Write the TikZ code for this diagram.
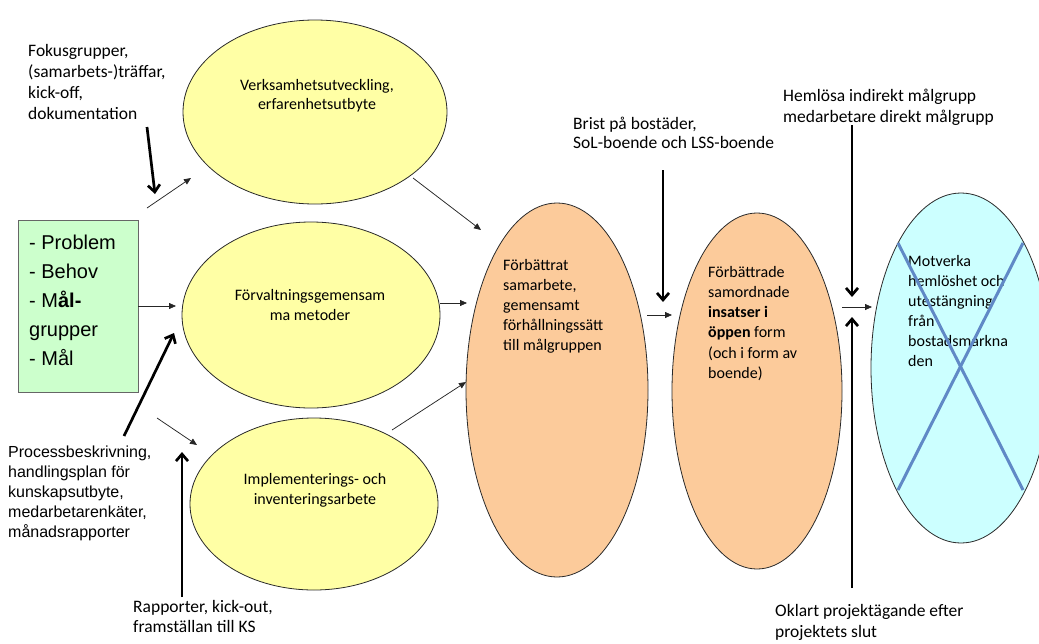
\documentclass[tikz,border=0pt]{standalone}
\usepackage{fontspec}
\setmainfont{Carlito}
\newfontfamily\arialf{Liberation Sans}
\usetikzlibrary{arrows.meta,shapes.geometric}
\definecolor{ellyellow}{HTML}{FFFFA5}
\definecolor{ellorange}{HTML}{FCCB9B}
\definecolor{ellblue}{HTML}{CCFFFF}
\definecolor{boxgreen}{HTML}{CCFFCC}
\definecolor{xblue}{HTML}{6089C6}
\definecolor{edgecol}{HTML}{2A2A2A}
\tikzset{
  bubble/.style={ellipse, draw=edgecol, line width=0.8pt, inner sep=0pt},
  thinarrow/.style={-{Triangle[length=7pt,width=6pt]}, line width=0.75pt, draw=black!85},
  thickarrow/.style={-{Straight Barb[length=7pt,width=12pt]}, line width=2.7pt},
  txtblk/.style={inner sep=0pt, anchor=north west, align=left},
  ctxt/.style={inner sep=0pt, anchor=north, align=center},
  calA/.style={font=\fontsize{17.5}{21}\selectfont},
  calB/.style={font=\fontsize{16}{20}\selectfont},
  arB/.style={font=\arialf\fontsize{16}{20}\selectfont},
  arC/.style={font=\arialf\fontsize{20}{29}\selectfont},
}
\begin{document}
\begin{tikzpicture}[x=1pt,y=-1pt]
\useasboundingbox (0,0) rectangle (1039,643);
\begin{scope}
\clip (0,0) rectangle (1039,643);
% ellipses
\node[bubble, fill=ellyellow, minimum width=264pt, minimum height=184pt] (e1) at (315,112) {};
\node[bubble, fill=ellyellow, minimum width=258pt, minimum height=186pt] (e2) at (311,315) {};
\node[bubble, fill=ellyellow, minimum width=248pt, minimum height=172pt] (e3) at (314,504) {};
\node[bubble, fill=ellorange, minimum width=182pt, minimum height=374pt] (o1) at (557,390) {};
\node[bubble, fill=ellorange, minimum width=170pt, minimum height=356pt] (o2) at (757,391) {};
\node[bubble, fill=ellblue, minimum width=180pt, minimum height=350pt] (goal) at (961,368) {};
% green box
\node[draw=black!60, line width=0.8pt, fill=boxgreen, minimum width=120pt, minimum height=172pt, inner sep=0pt] (box) at (78,306) {};

% texts
\node[txtblk, calA] (tfokus) at (28,43) {\rule{0pt}{13pt}Fokusgrupper,\\(samarbets-)träffar,\\kick-off,\\dokumentation};
\node[ctxt, calB, font=\fontsize{16}{19}\selectfont] (te1) at (317,78) {\rule{0pt}{12pt}Verksamhetsutveckling,\\erfarenhetsutbyte};
\node[txtblk, arC] (tbox) at (29,234) {\rule{0pt}{15pt}- Problem\\- Behov\\- M\textbf{ål-}\\grupper\\- Mål};
\node[ctxt, calB] (te2) at (310,288) {\rule{0pt}{12pt}Förvaltningsgemensam\\ma metoder};
\node[txtblk, arB] (tproc) at (8,445) {\rule{0pt}{12pt}Processbeskrivning,\\handlingsplan för\\kunskapsutbyte,\\medarbetarenkäter,\\månadsrapporter};
\node[ctxt, calB] (te3) at (315,472) {\rule{0pt}{12pt}Implementerings- och\\inventeringsarbete};
\node[txtblk, calA, font=\fontsize{17.5}{20.5}\selectfont] (trapp) at (133,599) {\rule{0pt}{13pt}Rapporter, kick-out,\\framställan till KS};
\node[txtblk, calA, font=\fontsize{17.5}{19.5}\selectfont] (tbrist) at (573,116) {\rule{0pt}{13pt}Brist på bostäder,\\SoL-boende och LSS-boende};
\node[txtblk, calB] (to1) at (503,258) {\rule{0pt}{12pt}Förbättrat\\samarbete,\\gemensamt\\förhållningssätt\\till målgruppen};
\node[txtblk, calB, font=\fontsize{16}{20.2}\selectfont] (to2) at (708,265) {\rule{0pt}{12pt}Förbättrade\\samordnade\\\textbf{insatser i}\\\textbf{öppen} form\\(och i form av\\boende)};
\node[txtblk, calA] (theml) at (783,88) {\rule{0pt}{13pt}Hemlösa indirekt målgrupp\\medarbetare direkt målgrupp};
\node[txtblk, calB] (tgoal) at (908,254) {\rule{0pt}{12pt}Motverka\\hemlöshet och\\utestängning\\från\\bostadsmarkna\\den};
\node[txtblk, calA] (tokl) at (775,603) {\rule{0pt}{13pt}Oklart projektägande efter\\projektets slut};

% cross over goal
\coordinate (x1) at (898,243);
\coordinate (x2) at (1023,490);
\coordinate (x3) at (1023,243);
\coordinate (x4) at (898,490);
\draw[xblue, line width=3pt] (x1) -- (x2);
\draw[xblue, line width=3pt] (x3) -- (x4);

% connector end points
\coordinate (k1s) at (147,127);  \coordinate (k1e) at (155,194);
\coordinate (aAs) at (147,208);  \coordinate (aAe) at (191,178);
\coordinate (e2in) at (176,306);
\coordinate (k2s) at (124,436);  \coordinate (k2e) at (174,333);
\coordinate (aBs) at (157,418);  \coordinate (aBe) at (197,445);
\coordinate (k3s) at (182,597);  \coordinate (k3e) at (182,452);
\coordinate (e1out) at (413,178); \coordinate (o1inA) at (481,230);
\coordinate (e2out) at (440,303); \coordinate (o1inB) at (467,303);
\coordinate (e3out) at (392,430); \coordinate (o1inC) at (466,382);
\coordinate (o1out) at (647,315); \coordinate (o2in) at (672,315);
\coordinate (kbs) at (663,170);  \coordinate (kbe) at (663,302);
\coordinate (o2out) at (842,307); \coordinate (goalin) at (872,307);
\coordinate (khs) at (852,125);  \coordinate (khe) at (852,297);
\coordinate (kos) at (852,588);  \coordinate (koe) at (852,317);

% thin connectors
\draw[thinarrow] (aAs) -- (aAe);
\draw[thinarrow] (box.east |- e2in) -- (e2in);
\draw[thinarrow] (aBs) -- (aBe);
\draw[thinarrow] (e1out) -- (o1inA);
\draw[thinarrow] (e2out) -- (o1inB);
\draw[thinarrow] (e3out) -- (o1inC);
\draw[thinarrow] (o1out) -- (o2in);
\draw[thinarrow] (o2out) -- (goalin);
% thick arrows
\draw[thickarrow] (k1s) -- (k1e);
\draw[thickarrow] (k2s) -- (k2e);
\draw[thickarrow] (k3s) -- (k3e);
\draw[thickarrow] (kbs) -- (kbe);
\draw[thickarrow] (khs) -- (khe);
\draw[thickarrow] (kos) -- (koe);
\end{scope}
\end{tikzpicture}
\end{document}
